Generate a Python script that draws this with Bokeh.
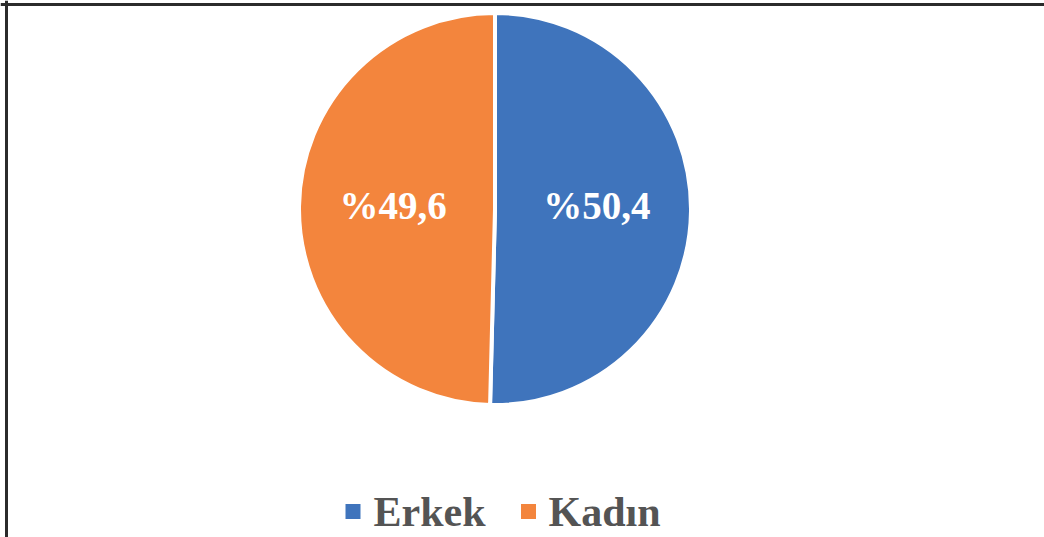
import math
from bokeh.plotting import figure
from bokeh.models import Range1d, ColumnDataSource, Span
from bokeh.core.properties import value
from bokeh.embed import file_html
from bokeh.resources import INLINE

# ---- data ----
categories = ["Erkek", "Kadın"]
shares = [50.4, 49.6]
labels = ["%50,4", "%49,6"]
colors = ["#3F74BC", "#F3853D"]

# ---- layout (reference pixel space; y measured upward from page bottom) ----
W, H = 1044, 537
cx, cy = 494.5, H - 208.5
R = 196

p = figure(width=W, height=H, output_backend="svg", toolbar_location=None,
           x_range=Range1d(0, W), y_range=Range1d(0, H),
           x_axis_location=None, y_axis_location=None, min_border=0,
           outline_line_color=None, background_fill_color="white",
           border_fill_color="white")
p.grid.visible = False

total = sum(shares)
starts, ends, lx, ly = [], [], [], []
a = math.pi / 2
for s in shares:
    span = 2 * math.pi * s / total
    starts.append(a)
    ends.append(a - span)
    mid = a - span / 2
    lx.append(cx + 0.52 * R * math.cos(mid))
    ly.append(cy)
    a -= span

src = ColumnDataSource(dict(start=starts, end=ends, color=colors,
                            lx=lx, ly=ly, label=labels, cat=categories))
p.wedge(x=cx, y=cy, radius=R, start_angle="start", end_angle="end",
        direction="clock", fill_color="color", line_color="white",
        line_width=4, source=src)

p.text(x="lx", y="ly", text="label", source=src, text_color="white",
       text_font=value("Liberation Serif"), text_font_style="bold",
       text_font_size="39px", text_align="center", text_baseline="alphabetic",
       y_offset=-4)

# legend (manual)
leg_sq_x = [352.5, 528]
leg_tx = [373, 548]
lsrc = ColumnDataSource(dict(x=leg_sq_x, tx=leg_tx, y=[H - 511] * 2,
                             ty=[H - 511] * 2, color=colors, cat=categories))
p.rect(x="x", y="y", width=15, height=15, fill_color="color", line_color=None,
       source=lsrc)
p.text(x="tx", y="ty", text="cat", source=lsrc, text_color="#545454",
       text_font=value("Liberation Serif"), text_font_style="bold",
       text_font_size="42px", text_align="left", text_baseline="alphabetic")

# frame border (top and left only)
p.add_layout(Span(location=H - 4, dimension="width",
                  line_color="#2b2b2b", line_width=3))
p.add_layout(Span(location=6, dimension="height",
                  line_color="#2b2b2b", line_width=3))

open("out.html", "w").write(file_html(p, INLINE))
